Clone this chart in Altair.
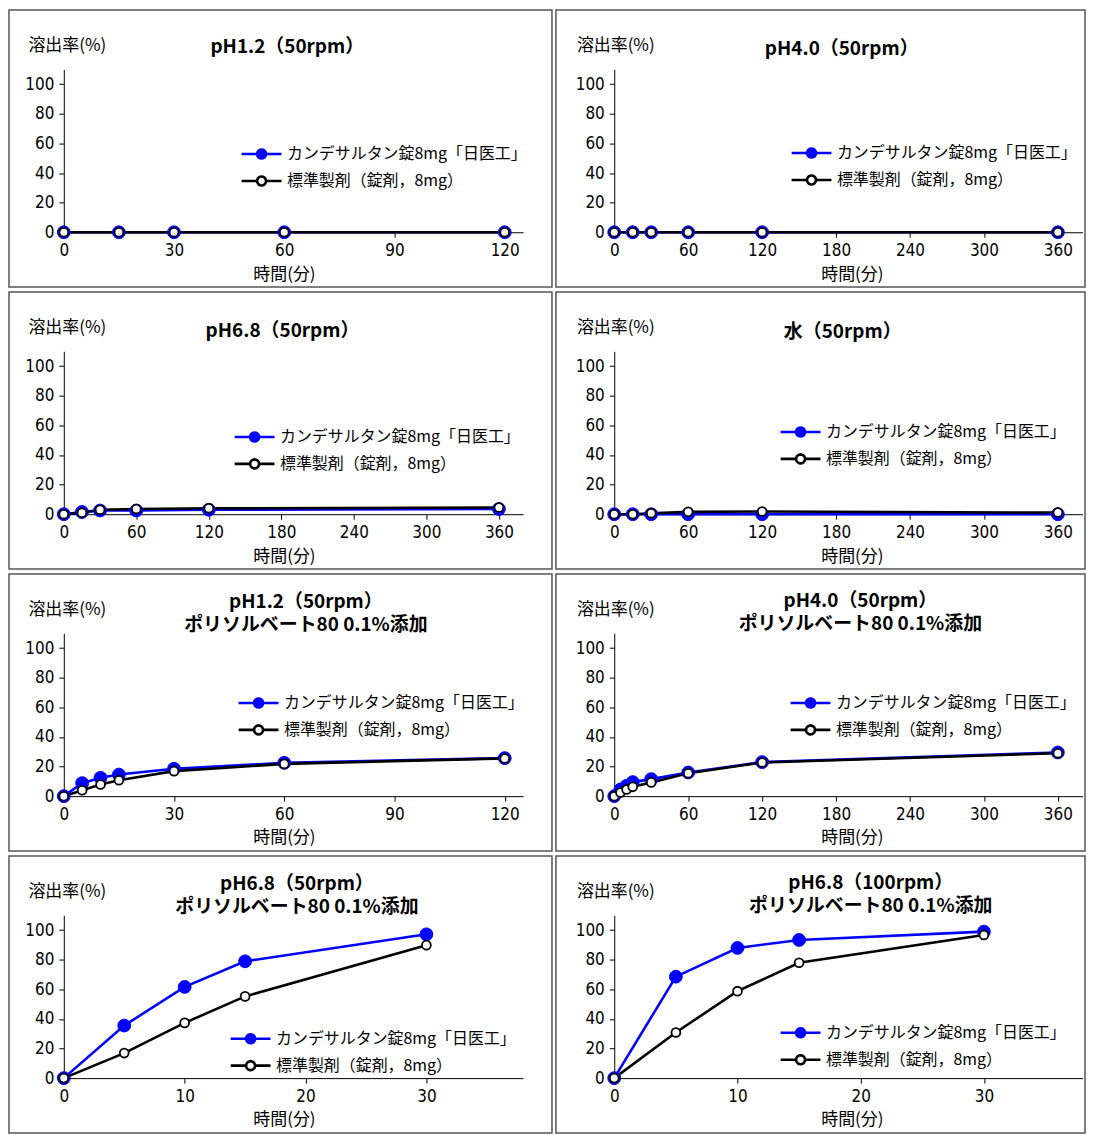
import math
import altair as alt
import pandas as pd

# ---------------- data ----------------
TEST = "カンデサルタン錠8mg「日医工」"
REF = "標準製剤（錠剤，8mg）"
SERIES = [TEST, REF]
Y_TITLE = "溶出率(%)"
X_TITLE = "時間(分)"

y_ticks = [0, 20, 40, 60, 80, 100]
ticks_120 = [0, 30, 60, 90, 120]
ticks_360 = [0, 60, 120, 180, 240, 300, 360]
ticks_30 = [0, 10, 20, 30]

p1_title = ["pH1.2（50rpm）"]
p1_time = [0, 15, 30, 60, 120]
p1_test = [0, 0, 0, 0, 0]
p1_ref = [0, 0, 0, 0, 0]

p2_title = ["pH4.0（50rpm）"]
p2_time = [0, 15, 30, 60, 120, 360]
p2_test = [0, 0, 0, 0, 0, 0]
p2_ref = [0, 0, 0, 0, 0, 0]

p3_title = ["pH6.8（50rpm）"]
p3_time = [0, 15, 30, 60, 120, 360]
p3_test = [0, 1.5, 2.5, 2.5, 3, 3.5]
p3_ref = [0, 1, 3, 3.5, 4, 4.5]

p4_title = ["水（50rpm）"]
p4_time = [0, 15, 30, 60, 120, 360]
p4_test = [0, 0, 0, 0, 0, 0]
p4_ref = [0, 0, 0.7, 1.6, 1.8, 1.1]

p5_title = ["pH1.2（50rpm）", "ポリソルベート80 0.1%添加"]
p5_time = [0, 5, 10, 15, 30, 60, 120]
p5_test = [0, 8.8, 12.4, 14.6, 18.5, 22.5, 25.7]
p5_ref = [0, 4, 7.9, 10.8, 16.9, 21.8, 25.5]

p6_title = ["pH4.0（50rpm）", "ポリソルベート80 0.1%添加"]
p6_time = [0, 5, 10, 15, 30, 60, 120, 360]
p6_test = [0, 4.5, 7, 9.5, 11.5, 16, 23, 29.5]
p6_ref = [0, 2.5, 4.5, 6.3, 9.3, 15.5, 22.7, 29]

p7_title = ["pH6.8（50rpm）", "ポリソルベート80 0.1%添加"]
p7_time = [0, 5, 10, 15, 30]
p7_test = [0, 35.5, 61.6, 78.9, 97.1]
p7_ref = [0, 16.9, 37.3, 55.2, 89.8]

p8_title = ["pH6.8（100rpm）", "ポリソルベート80 0.1%添加"]
p8_time = [0, 5, 10, 15, 30]
p8_test = [0, 68.5, 87.9, 93.3, 98.9]
p8_ref = [0, 30.8, 58.7, 77.9, 96.7]

# ---------------- style ----------------
FONT_JP = "Noto Sans CJK JP"
FONT_NUM = "Liberation Sans Narrow, DejaVu Sans Condensed, Noto Sans CJK JP, sans-serif"
BLUE = "#0000ff"
BLACK = "#000000"
WHITE = "#ffffff"
H = 278
Y_RANGE = [223, 59.5]
GEOM = {
    0: dict(width=545, xrange=[55, 516], yoff=-55, ytx=-36, xtx=276),
    1: dict(width=531, xrange=[58.5, 528.5], yoff=-58.5, ytx=-38, xtx=297),
}
# legend glyph: a short line with a small circle in its middle
_R = 0.45
_poly = "".join(
    ("M" if i == 0 else "L")
    + f"{_R * math.cos(2 * math.pi * i / 20):.3f},{_R * math.sin(2 * math.pi * i / 20):.3f}"
    for i in range(20)
) + "Z"
SYMBOL = f"M-2,0L-{_R},0M{_R},0L2,0" + _poly
IS_TEST_ROW = f"datum.series === '{TEST}'"


def panel(title, times, test, ref, xmax, xticks, col, leg_xy, title_dx, title_off):
    g = GEOM[col]
    df = pd.DataFrame({
        "time": list(times) + list(times),
        "value": list(test) + list(ref),
        "series": [TEST] * len(times) + [REF] * len(times),
    })
    x = alt.X(
        "time:Q",
        scale=alt.Scale(domain=[0, xmax], range=g["xrange"], nice=False, zero=False),
        axis=alt.Axis(orient="bottom", offset=-(H - Y_RANGE[0]), values=xticks,
                      title=X_TITLE, titleX=g["xtx"], titleY=42,
                      titleAlign="center", titleBaseline="middle"),
    )
    y = alt.Y(
        "value:Q",
        scale=alt.Scale(domain=[0, 110], range=Y_RANGE, nice=False),
        axis=alt.Axis(orient="left", offset=g["yoff"], values=y_ticks,
                      title=Y_TITLE, titleAngle=0, titleX=g["ytx"], titleY=36,
                      titleAlign="left", titleBaseline="middle"),
    )
    legend = alt.Legend(
        orient="none", legendX=leg_xy[0], legendY=leg_xy[1], title=None,
        direction="vertical", symbolType=SYMBOL, symbolSize=400,
        symbolStrokeWidth=2.6, symbolOpacity=1, labelFont=FONT_JP, labelFontSize=16,
        labelColor="black", labelLimit=400, labelOffset=14, rowPadding=5,
    )
    base = alt.Chart(df)
    line_test = base.transform_filter(IS_TEST_ROW).mark_line(
        strokeWidth=2.6, color=BLUE).encode(x=x, y=y)
    line_ref = base.transform_filter(f"datum.series === '{REF}'").mark_line(
        strokeWidth=2.6, color=BLACK).encode(x=x, y=y)
    pts = base.mark_point(opacity=1, filled=False).encode(
        x=x, y=y,
        stroke=alt.Stroke("series:N", scale=alt.Scale(domain=SERIES, range=[BLUE, BLACK]),
                          legend=legend),
        fill=alt.Fill("series:N", scale=alt.Scale(domain=SERIES, range=[BLUE, WHITE]),
                      legend=legend),
        size=alt.condition(IS_TEST_ROW, alt.value(165), alt.value(79)),
        strokeWidth=alt.condition(IS_TEST_ROW, alt.value(1), alt.value(1.8)),
    )
    return alt.layer(line_test, line_ref, pts).properties(
        width=g["width"], height=H,
        title=alt.Title(text=title, anchor="middle", offset=title_off, dx=title_dx,
                        baseline="middle", lineHeight=23, font=FONT_JP,
                        fontSize=19, fontWeight="bold", color="black"),
    )


c1 = panel(p1_title, p1_time, p1_test, p1_ref, 125, ticks_120, 0, (242, 133), 6.8, -56)
c2 = panel(p2_title, p2_time, p2_test, p2_ref, 380, ticks_360, 1, (245, 132), 21.3, -58)
c3 = panel(p3_title, p3_time, p3_test, p3_ref, 380, ticks_360, 0, (235, 134), 2, -58)
c4 = panel(p4_title, p4_time, p4_test, p4_ref, 380, ticks_360, 1, (234, 129), 22.3, -59)
c5 = panel(p5_title, p5_time, p5_test, p5_ref, 125, ticks_120, 0, (239, 118), 25.5, -70)
c6 = panel(p6_title, p6_time, p6_test, p6_ref, 380, ticks_360, 1, (244, 118), 40, -69)
c7 = panel(p7_title, p7_time, p7_test, p7_ref, 38, ticks_30, 0, (231, 172), 16.5, -70)
c8 = panel(p8_title, p8_time, p8_test, p8_ref, 38, ticks_30, 1, (234, 166), 50.5, -69)


def indep(ch):
    return ch.resolve_scale(stroke="independent", fill="independent").resolve_legend(
        stroke="independent", fill="independent")


rows = [indep(alt.hconcat(a, b, spacing=2)) for a, b in [(c1, c2), (c3, c4), (c5, c6), (c7, c8)]]
chart = indep(alt.vconcat(*rows, spacing=3)).properties(
    padding={"left": 0, "top": -1, "right": 0, "bottom": 0}
).configure_view(
    stroke="#555555", strokeWidth=1.5
).configure_axis(
    labelFont=FONT_NUM, labelFontSize=17, labelColor="black",
    titleFont=FONT_JP, titleFontSize=17, titleFontWeight="normal", titleColor="black",
    domainColor="black", domainWidth=1, tickColor="black", tickSize=5, tickWidth=1,
    grid=False, labelPadding=5, labelFlush=False,
)

chart.save("out.html", embed_options={"renderer": "svg", "actions": False})
